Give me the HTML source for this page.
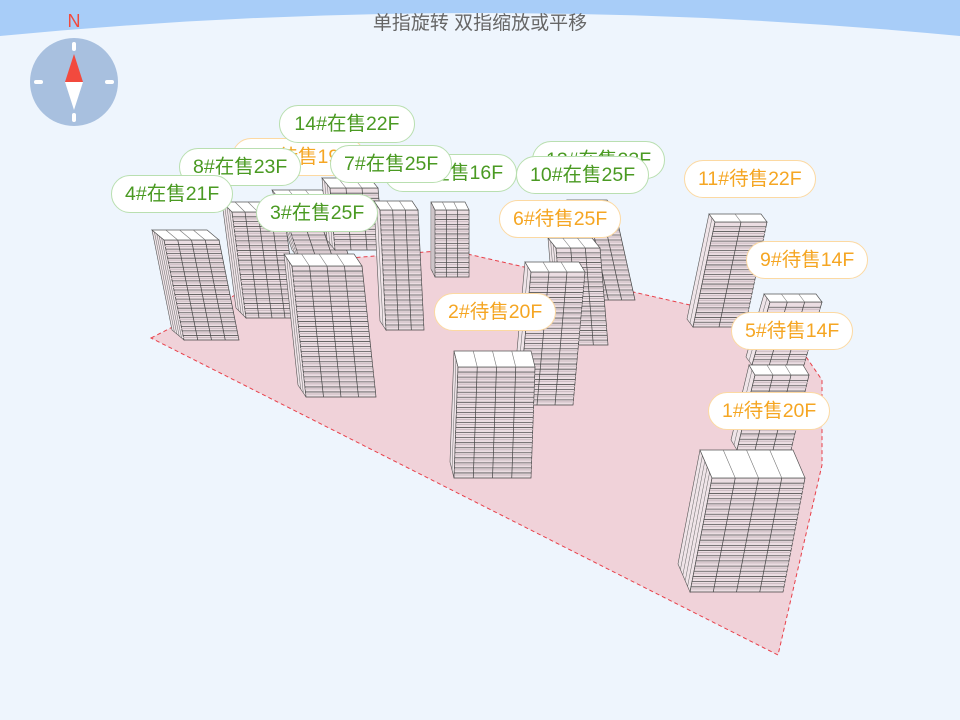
<!DOCTYPE html>
<html><head><meta charset="utf-8">
<style>
body{margin:0;width:960px;height:720px;overflow:hidden;background:#eef5fd;font-family:"Liberation Sans","Noto Sans CJK SC",sans-serif;position:relative}
svg{position:absolute;left:0;top:0}
.t{position:absolute;top:8px;left:0;width:960px;text-align:center;font-size:19px;color:#666}
.l{position:absolute;height:38px;line-height:37px;padding:0 13px;background:#fff;border-radius:19px;font-size:19.5px;white-space:nowrap;box-sizing:border-box}
.g{border:1px solid #b9dfb0;color:#4a9a22}
.o{border:1px solid #fcd9a2;color:#f5a623}
</style></head><body>
<svg width="960" height="720" id="s">
<path d="M0 0 H960 V36 Q480 -10 0 36 Z" fill="#a8cdf8"/>
<circle cx="74" cy="82" r="44" fill="#a8c0df"/>
<rect x="72" y="42" width="4" height="9" rx="2" fill="#fff"/>
<rect x="72" y="113" width="4" height="9" rx="2" fill="#fff"/>
<rect x="34" y="80" width="9" height="4" rx="2" fill="#fff"/>
<rect x="105" y="80" width="9" height="4" rx="2" fill="#fff"/>
<polygon points="74,54 83,82 65,82" fill="#f24a3e"/>
<polygon points="74,110 83,82 65,82" fill="#fff"/>
<text x="74" y="27" font-size="18" fill="#f24a3e" text-anchor="middle" font-family="Liberation Sans">N</text>
<polygon points="151,338 300,262 450,250 690,305 800,348 822,380 822,465 778,655" fill="#f0d2d9" stroke="#e8404a" stroke-dasharray="4,3" stroke-width="1"/>
<g id="b"></g>
</svg>
<div class="t">单指旋转 双指缩放或平移</div>
<div class="l o" style="left:232px;top:138px">13#待售19F</div>
<div class="l g" style="left:384px;top:154px">12#在售16F</div>
<div class="l g" style="left:532px;top:141px">13#在售23F</div>
<div class="l g" style="left:279px;top:105px;width:136px;text-align:center">14#在售22F</div>
<div class="l g" style="left:179px;top:148px">8#在售23F</div>
<div class="l g" style="left:330px;top:145px">7#在售25F</div>
<div class="l g" style="left:516px;top:156px">10#在售25F</div>
<div class="l g" style="left:111px;top:175px">4#在售21F</div>
<div class="l g" style="left:256px;top:194px">3#在售25F</div>
<div class="l o" style="left:499px;top:200px">6#待售25F</div>
<div class="l o" style="left:684px;top:160px">11#待售22F</div>
<div class="l o" style="left:746px;top:241px">9#待售14F</div>
<div class="l o" style="left:731px;top:312px">5#待售14F</div>
<div class="l o" style="left:708px;top:392px">1#待售20F</div>
<div class="l o" style="left:434px;top:293px">2#待售20F</div>
<script>
var B=[
[575,210,40,90,20,18,3,8,10],
[280,200,50,60,20,12,3,8,10],
[330,188,48,62,5,12,3,8,10],
[556,248,44,97,8,20,3,8,10],
[164,240,55,100,20,22,4,12,10],
[232,212,52,106,14,22,4,10,10],
[380,210,38,120,6,24,3,6,9],
[435,210,34,67,0,14,3,4,8],
[292,266,70,131,14,26,4,8,12],
[531,272,54,133,-12,26,3,6,10],
[458,367,77,111,-4,22,4,4,16],
[715,222,52,105,-22,22,2,6,8],
[770,302,52,63,-18,12,3,6,8],
[755,375,54,75,-18,14,3,6,10],
[712,478,93,114,-22,22,4,12,28]
];
var s='';
function P(a){return a.map(p=>p[0].toFixed(1)+','+p[1].toFixed(1)).join(' ')}
B.forEach(b=>{var[x,y,w,h,dx,f,c,cx,ch]=b;
var A=[x,y],Bp=[x+w,y],C=[x+w+dx,y+h],D=[x+dx,y+h],E=[x-cx,y-ch],F=[x-cx+dx,y-ch+h],G=[x+w-cx,y-ch];
s+='<polygon points="'+P([A,E,F,D])+'" fill="#efe4e8" stroke="#555" stroke-width="0.6"/>';
var sc=Math.max(2,Math.round(cx/2.5));
for(var j=1;j<sc;j++){var t=j/sc;s+='<line x1="'+(x-cx*t)+'" y1="'+(y-ch*t)+'" x2="'+(x-cx*t+dx)+'" y2="'+(y-ch*t+h)+'" stroke="#666" stroke-width="0.5"/>';}
s+='<polygon points="'+P([A,Bp,C,D])+'" fill="#ebdde2" stroke="#444" stroke-width="0.7"/>';
for(var i=1;i<f;i++){var t=i/f;var yy=y+h*t;s+='<line x1="'+(x+dx*t)+'" y1="'+yy+'" x2="'+(x+w+dx*t)+'" y2="'+yy+'" stroke="#555" stroke-width="0.8"/><line x1="'+(x+dx*t)+'" y1="'+(yy+2)+'" x2="'+(x+w+dx*t)+'" y2="'+(yy+2)+'" stroke="#c9b9bf" stroke-width="1"/>';}
for(var j=1;j<c;j++){var xx=x+w*j/c;s+='<line x1="'+xx+'" y1="'+y+'" x2="'+(xx+dx)+'" y2="'+(y+h)+'" stroke="#444" stroke-width="0.7"/>';}
s+='<polygon points="'+P([A,Bp,G,E])+'" fill="#fff" stroke="#555" stroke-width="0.7"/>';
for(var j=1;j<c;j++){var xx=x+w*j/c;s+='<line x1="'+xx+'" y1="'+y+'" x2="'+(xx-cx)+'" y2="'+(y-ch)+'" stroke="#777" stroke-width="0.6"/>';}
});
document.getElementById('b').innerHTML=s;
</script>
</body></html>
